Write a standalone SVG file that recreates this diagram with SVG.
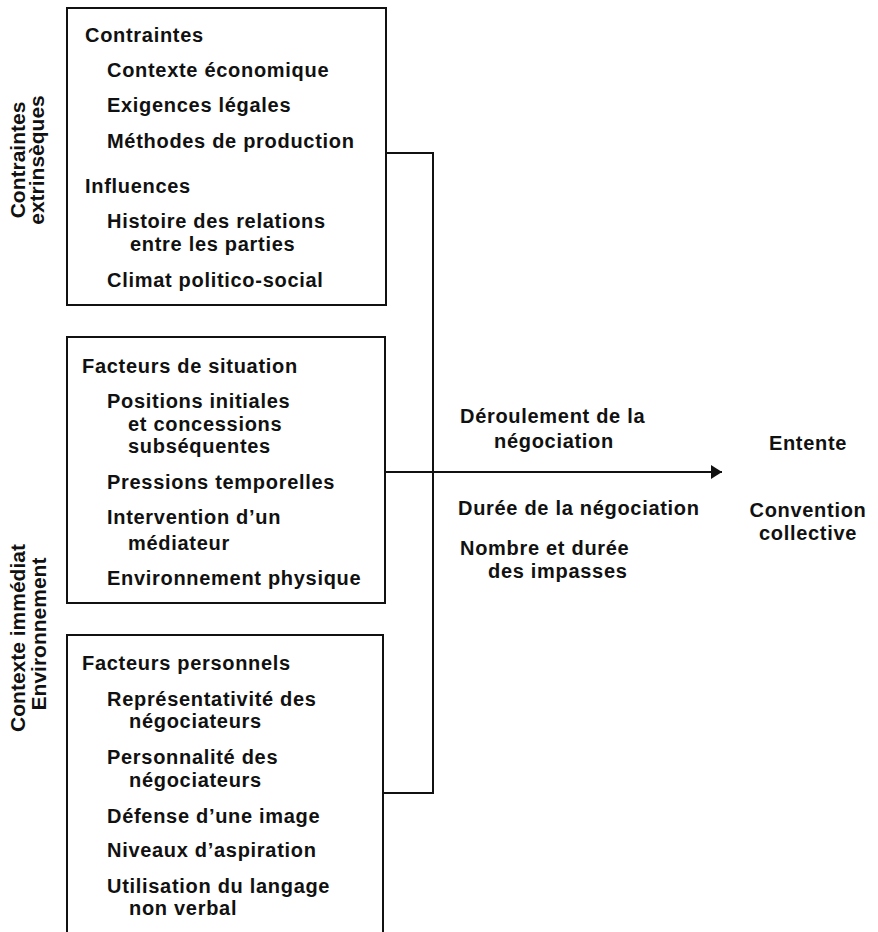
<svg xmlns="http://www.w3.org/2000/svg" width="878" height="932" viewBox="0 0 878 932">
<style>
  .bg{fill:#fff}
  .box{fill:none;stroke:#111;stroke-width:2}
  .ln{fill:none;stroke:#111;stroke-width:2}
  text{font-family:"Liberation Sans",Arial,sans-serif;font-weight:bold;fill:#111}
  .t{font-size:20px;letter-spacing:0.7px}
  .r{font-size:21px;text-anchor:middle}
  .m{text-anchor:middle}
</style>
<defs>
  <marker id="ah" viewBox="0 0 11 14" refX="11" refY="7" markerWidth="11" markerHeight="14" markerUnits="userSpaceOnUse" orient="auto">
    <path d="M0,0 L11,7 L0,14 Z" fill="#111"/>
  </marker>
</defs>
<rect class="bg" x="0" y="0" width="878" height="932"/>

<g id="label-extrinseques">
  <text class="r" transform="translate(25,160) rotate(-90)">Contraintes</text>
  <text class="r" transform="translate(44,160) rotate(-90)">extrinsèques</text>
</g>
<g id="label-immediat">
  <text class="r" transform="translate(25,638) rotate(-90)">Contexte immédiat</text>
  <text class="r" transform="translate(46,634) rotate(-90)">Environnement</text>
</g>

<g id="box-contraintes">
  <rect class="box" x="67" y="8" width="319" height="297"/>
  <text class="t" x="85" y="42">Contraintes</text>
  <text class="t" x="107" y="77">Contexte économique</text>
  <text class="t" x="107" y="112">Exigences légales</text>
  <text class="t" x="107" y="148">Méthodes de production</text>
  <text class="t" x="85" y="193">Influences</text>
  <text class="t" x="107" y="228">Histoire des relations</text>
  <text class="t" x="130" y="251">entre les parties</text>
  <text class="t" x="107" y="287">Climat politico-social</text>
</g>

<g id="box-situation">
  <rect class="box" x="67" y="337" width="318" height="266"/>
  <text class="t" x="82" y="373">Facteurs de situation</text>
  <text class="t" x="107" y="408">Positions initiales</text>
  <text class="t" x="128" y="431">et concessions</text>
  <text class="t" x="128" y="453">subséquentes</text>
  <text class="t" x="107" y="489">Pressions temporelles</text>
  <text class="t" x="107" y="524">Intervention d’un</text>
  <text class="t" x="128" y="550">médiateur</text>
  <text class="t" x="107" y="585">Environnement physique</text>
</g>

<g id="box-personnels">
  <rect class="box" x="67" y="635" width="316" height="320"/>
  <text class="t" x="82" y="670">Facteurs personnels</text>
  <text class="t" x="107" y="706">Représentativité des</text>
  <text class="t" x="129" y="728">négociateurs</text>
  <text class="t" x="107" y="764">Personnalité des</text>
  <text class="t" x="129" y="787">négociateurs</text>
  <text class="t" x="107" y="823">Défense d’une image</text>
  <text class="t" x="107" y="857">Niveaux d’aspiration</text>
  <text class="t" x="107" y="893">Utilisation du langage</text>
  <text class="t" x="129" y="915">non verbal</text>
</g>

<g id="connectors">
  <polyline class="ln" points="386,153 433,153 433,793 383,793"/>
  <line class="ln" x1="385" y1="472" x2="722" y2="472" marker-end="url(#ah)"/>
</g>

<g id="process">
  <text class="t" x="460" y="423">Déroulement de la</text>
  <text class="t" x="494" y="448">négociation</text>
  <text class="t" x="458" y="515">Durée de la négociation</text>
  <text class="t" x="460" y="555">Nombre et durée</text>
  <text class="t" x="488" y="578">des impasses</text>
</g>

<g id="outcome">
  <text class="t m" x="808" y="450">Entente</text>
  <text class="t m" x="808" y="517">Convention</text>
  <text class="t m" x="808" y="540">collective</text>
</g>
</svg>
